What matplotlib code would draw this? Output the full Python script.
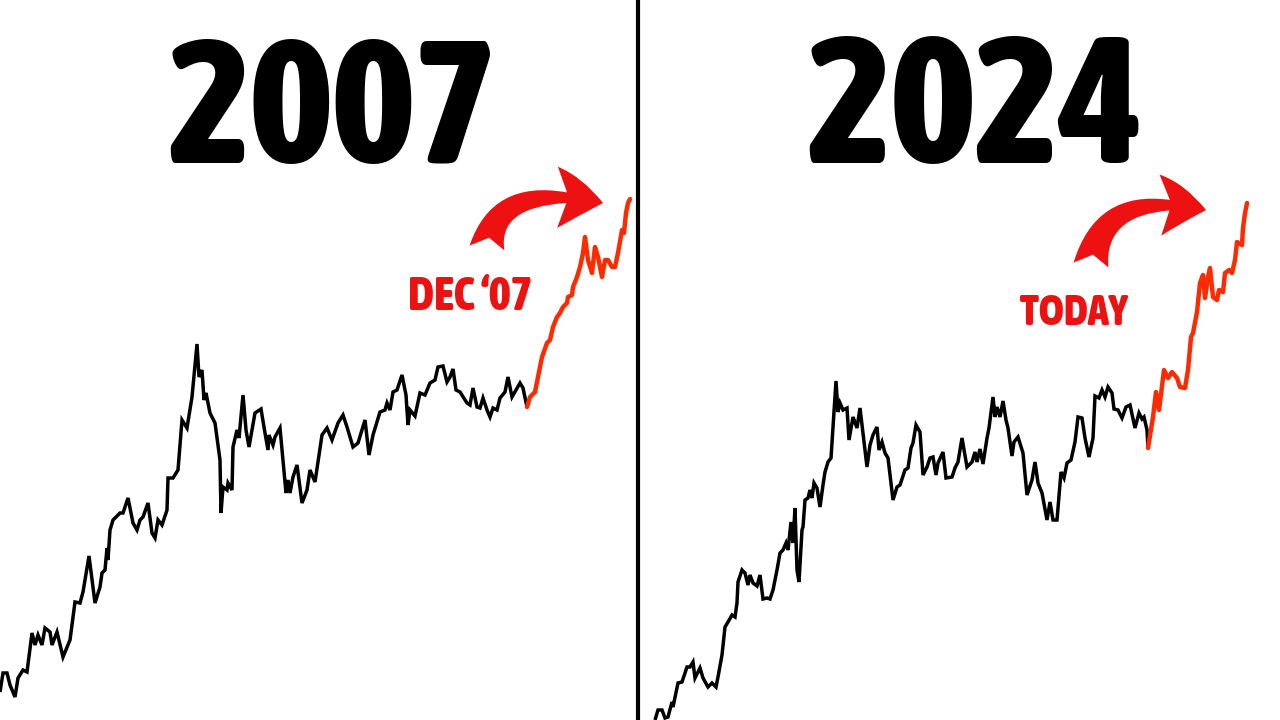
import matplotlib
matplotlib.use("Agg")
import matplotlib.pyplot as plt
from matplotlib import font_manager
from matplotlib.font_manager import FontProperties

# ---------------- data (y = price level) ----------------
# Left panel (2007)
x07_hist = [0, 3, 7, 10, 15, 18, 23, 27, 32, 35, 38, 42, 45, 50, 52, 57, 63, 70, 75, 80,
            83, 89, 95, 100, 102, 105, 107, 108, 110, 113, 120, 123, 128, 133, 137, 140, 143,
            148, 152, 155, 158, 162, 167, 168, 173, 178, 182, 187, 192, 197, 199, 202, 204,
            206, 210, 215, 220, 221, 223, 227, 228, 232, 233, 237, 239, 243, 246, 249, 255,
            261, 265, 268, 269, 273, 275, 280, 286, 288, 290, 293, 297, 302, 307, 310, 315,
            322, 327, 332, 338, 343, 347, 353, 358, 365, 369, 373, 380, 385, 387, 390, 393,
            397, 402, 406, 408, 410, 415, 420, 425, 430, 435, 438, 443, 447, 450, 453, 456,
            460, 467, 470, 473, 477, 480, 483, 487, 490, 493, 497, 500, 505, 508, 512, 520,
            523, 527]
y07_hist = [692, 673, 673, 685, 697, 678, 670, 672, 633, 645, 635, 645, 628, 632, 645, 632,
            657, 640, 602, 603, 592, 556, 603, 587, 573, 570, 548, 560, 530, 520, 513, 513,
            498, 523, 530, 520, 517, 503, 533, 538, 520, 525, 510, 478, 478, 470, 420, 428,
            397, 344, 377, 370, 400, 393, 413, 423, 460, 513, 487, 490, 483, 490, 447, 430,
            438, 395, 430, 447, 413, 409, 433, 450, 435, 445, 437, 428, 493, 480, 493, 477,
            465, 503, 490, 470, 482, 435, 428, 440, 423, 415, 427, 447, 443, 420, 455, 435,
            412, 410, 403, 410, 392, 390, 375, 395, 425, 410, 416, 393, 395, 383, 380, 367,
            366, 382, 377, 369, 390, 392, 403, 405, 388, 407, 408, 398, 410, 417, 408, 410,
            398, 392, 377, 397, 383, 388, 407]
x07_after = [527, 530, 535, 538, 542, 547, 550, 553, 557, 560, 563, 567, 568, 572, 573, 577,
             580, 583, 585, 588, 592, 595, 598, 602, 605, 608, 612, 615, 618, 622, 624, 626,
             628, 630]
y07_after = [407, 397, 392, 377, 357, 343, 340, 327, 317, 313, 307, 303, 297, 295, 287, 277,
             267, 253, 237, 260, 273, 247, 257, 277, 260, 260, 267, 267, 253, 230, 233, 213,
             203, 199]

# Right panel (2024)
x24_hist = [655, 658, 662, 665, 668, 672, 673, 678, 682, 687, 690, 693, 695, 700, 703, 708,
            712, 716, 718, 722, 725, 728, 732, 735, 737, 738, 742, 745, 748, 750, 753, 757,
            760, 763, 767, 770, 773, 777, 780, 783, 786, 788, 791, 793, 795, 797, 799, 802,
            803, 805, 808, 810, 812, 814, 817, 820, 823, 825, 828, 831, 836, 838, 840, 843,
            847, 849, 853, 857, 860, 863, 867, 870, 873, 877, 879, 882, 885, 888, 893, 897,
            900, 905, 908, 911, 913, 916, 920, 923, 927, 930, 933, 936, 938, 943, 946, 952,
            955, 958, 962, 967, 972, 975, 977, 980, 983, 987, 989, 993, 995, 997, 1000, 1003,
            1006, 1008, 1012, 1014, 1018, 1023, 1027, 1032, 1035, 1038, 1042, 1047, 1050,
            1053, 1057, 1061, 1064, 1067, 1071, 1075, 1078, 1082, 1085, 1089, 1093, 1095,
            1099, 1102, 1105, 1108, 1112, 1114, 1118, 1122, 1126, 1130, 1135, 1139, 1142,
            1144, 1147, 1148]
y24_hist = [720, 710, 710, 718, 717, 702, 707, 683, 682, 667, 667, 662, 678, 668, 678, 687,
            683, 687, 677, 655, 627, 622, 615, 617, 603, 582, 570, 573, 585, 575, 583, 586,
            575, 599, 598, 599, 590, 570, 553, 550, 543, 550, 522, 543, 508, 570, 582, 530,
            527, 500, 498, 490, 498, 483, 488, 507, 485, 472, 462, 458, 381, 412, 403, 410,
            408, 440, 417, 428, 408, 433, 467, 445, 435, 427, 450, 442, 453, 458, 500, 487,
            485, 470, 468, 448, 443, 425, 432, 475, 467, 458, 457, 475, 463, 452, 478, 477,
            468, 462, 438, 467, 462, 452, 462, 449, 464, 438, 428, 397, 417, 407, 417, 401,
            420, 428, 456, 442, 437, 453, 495, 480, 462, 483, 493, 520, 502, 520, 520, 472,
            478, 463, 460, 442, 417, 418, 438, 457, 438, 396, 398, 390, 397, 387, 393, 409,
            410, 418, 407, 405, 428, 413, 419, 417, 430, 448]
x24_after = [1148, 1153, 1156, 1159, 1164, 1168, 1172, 1177, 1180, 1185, 1188, 1191, 1193,
             1197, 1200, 1203, 1205, 1208, 1210, 1213, 1217, 1219, 1223, 1225, 1229, 1232,
             1235, 1237, 1242, 1243, 1245, 1247]
y24_after = [448, 417, 392, 410, 370, 378, 372, 378, 387, 388, 370, 337, 333, 312, 283, 275,
             298, 277, 268, 297, 300, 290, 292, 273, 270, 273, 260, 242, 245, 228, 213, 203]

titles = ["2007", "2024"]
labels = ["DEC \u201807", "TODAY"]

# ---------------- styling ----------------
BLACK = "#000000"
LINE_RED = "#FF2A00"
TEXT_RED = "#EE1111"


def flip(ys):
    return [720 - v for v in ys]


def wnum(e):
    w = e.weight
    if isinstance(w, str):
        return {"black": 900, "heavy": 900, "extra bold": 800, "bold": 700,
                "semibold": 600, "demibold": 600}.get(w.lower(), 400)
    return int(w)


def pick_font(target_weight):
    """Prefer a bold condensed face, otherwise a heavy common sans."""
    entries = font_manager.fontManager.ttflist
    cond = [e for e in entries
            if (("condensed" in str(e.stretch).lower() or "narrow" in e.name.lower()
                 or "condensed" in e.name.lower())
                and wnum(e) >= 700 and e.style == "normal")]
    if cond:
        cond.sort(key=lambda e: abs(wnum(e) - target_weight))
        return FontProperties(fname=cond[0].fname)
    for fam in ["Roboto", "Lato", "Inter", "Open Sans", "Noto Sans", "DejaVu Sans"]:
        c = [e for e in entries if e.name == fam and e.style == "normal" and wnum(e) >= 700]
        if c:
            c.sort(key=lambda e: -wnum(e))
            return FontProperties(fname=c[0].fname)
    return FontProperties(family="DejaVu Sans", weight="bold")


FP_TITLE = pick_font(800)
FP_LABEL = FP_TITLE

fig = plt.figure(figsize=(12.8, 7.2), dpi=100)
fig.patch.set_facecolor("white")

ax1 = fig.add_axes([0, 0, 0.5, 1])
ax2 = fig.add_axes([0.5, 0, 0.5, 1])

# (axis, xlim, series..., title, title centre x, label, label centre x, label baseline,
#  arrow tail, arrow head)
panels = [
    (ax1, (0, 640), x07_hist, y07_hist, x07_after, y07_after,
     titles[0], 332, labels[0], 470, 310, (487, 248), (603, 203)),
    (ax2, (640, 1280), x24_hist, y24_hist, x24_after, y24_after,
     titles[1], 975, labels[1], 1074, 325, (1091, 265), (1206, 210)),
]

title_artists = []
label_artists = []
for (ax, xl, xh, yh, xa, ya, title, tx, label, lx, ly, tail, head) in panels:
    ax.set_xlim(*xl)
    ax.set_ylim(0, 720)
    ax.axis("off")
    ax.plot(xh, flip(yh), color=BLACK, lw=2.5, solid_joinstyle="miter",
            solid_capstyle="butt", zorder=3)
    ax.plot(xa, flip(ya), color=LINE_RED, lw=3.2, solid_joinstyle="round",
            solid_capstyle="round", zorder=4)
    t = ax.text(tx, 720 - 163, title, ha="center", va="baseline",
                fontproperties=FP_TITLE, fontsize=100, color=BLACK)
    title_artists.append(t)
    lt = ax.text(lx, 720 - ly, label, ha="center", va="baseline",
                 fontproperties=FP_LABEL, fontsize=24, color=TEXT_RED)
    label_artists.append(lt)
    ax.annotate("", xy=(head[0], 720 - head[1]), xytext=(tail[0], 720 - tail[1]),
                arrowprops=dict(arrowstyle="fancy,head_length=1.5,head_width=2.0,tail_width=1.15",
                                connectionstyle="angle3,angleA=82,angleB=-12",
                                color=TEXT_RED, mutation_scale=22,
                                shrinkA=0, shrinkB=0, lw=0))

# fit text widths to the reference
renderer = fig.canvas.get_renderer()
for t, w in zip(title_artists, [328, 336]):
    bb = t.get_window_extent(renderer)
    t.set_fontsize(t.get_fontsize() * w / bb.width)
for t, w in zip(label_artists, [124, 108]):
    bb = t.get_window_extent(renderer)
    t.set_fontsize(t.get_fontsize() * w / bb.width)

# divider between the two panels
fig.add_artist(plt.Line2D([0.4985, 0.4985], [0, 1], transform=fig.transFigure,
                          color=BLACK, lw=3))

fig.savefig("out.png", dpi=100, facecolor="white")
